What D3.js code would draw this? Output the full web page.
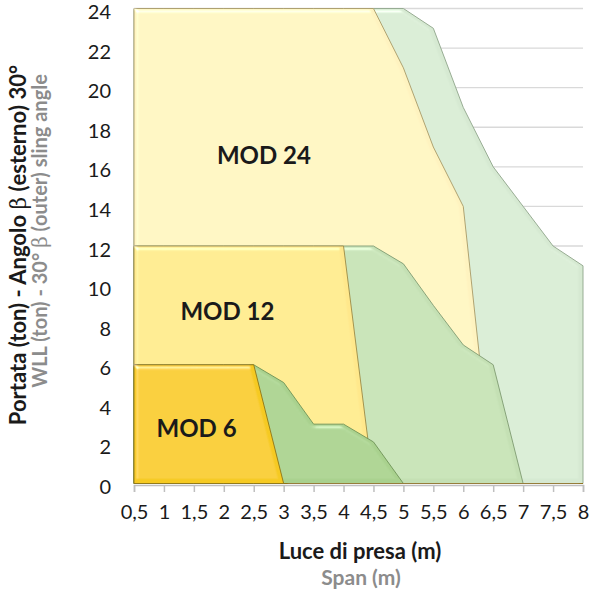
<!DOCTYPE html>
<html lang="it">
<head>
<meta charset="UTF-8">
<script src="https://d3js.org/d3.v7.min.js"></script>
<style>
  html, body { margin: 0; padding: 0; background: #fff; overflow: hidden; }
  svg text { font-family: Lato, "Open Sans", sans-serif; }
  .tick text { font-size: 20px; fill: #1a1a1a; }
  .grid line { stroke: #d9d9d9; stroke-width: 1.3px; }
  .label { font-weight: bold; font-size: 24px; fill: #1a1a1a; }
</style>
</head>
<body>
<svg id="chart" width="592" height="598"></svg>
<script>
  // categories on the span axis
  const spans = ["0,5", "1", "1,5", "2", "2,5", "3", "3,5", "4", "4,5", "5", "5,5", "6", "6,5", "7", "7,5", "8"];
  const yTicks = [0, 2, 4, 6, 8, 10, 12, 14, 16, 18, 20, 22, 24];

  // load values (ton) per span, drawn back to front
  const mod24ext = [24, 24, 24, 24, 24, 24, 24, 24, 24, 24, 23, 19, 16, 14, 12, 11];
  const mod24    = [24, 24, 24, 24, 24, 24, 24, 24, 24, 21, 17, 14, 0, 0, 0, 0];
  const mod12ext = [12, 12, 12, 12, 12, 12, 12, 12, 12, 11.1, 9, 7, 6, 0, 0, 0];
  const mod12    = [12, 12, 12, 12, 12, 12, 12, 12, 0, 0, 0, 0, 0, 0, 0, 0];
  const mod6ext  = [6, 6, 6, 6, 6, 5.1, 3, 3, 2.1, 0, 0, 0, 0, 0, 0, 0];
  const mod6     = [6, 6, 6, 6, 6, 0, 0, 0, 0, 0, 0, 0, 0, 0, 0, 0];

  const series = [
    { vals: mod24ext, fill: "#d6e9d2", edge: "#8fa58a" },
    { vals: mod24,    fill: "#fef3c0", edge: "#a89a66" },
    { vals: mod12ext, fill: "#c4e0b4", edge: "#7f9b72" },
    { vals: mod12,    fill: "#ffe88c", edge: "#9c8a45" },
    { vals: mod6ext,  fill: "#a9d18e", edge: "#6e9357" },
    { vals: mod6,     fill: "#f6ca22", edge: "#8f7415" }
  ];

  // label anchors: position along the category index, load value
  const labels = [
    { text: "MOD 24", at: 4.34, y: 16.6 },
    { text: "MOD 12", at: 3.12, y: 8.7 },
    { text: "MOD 6", at: 2.09, y: 2.8 }
  ];

  const svg = d3.select("#chart");

  const x = d3.scalePoint().domain(spans).range([134, 583]);
  const xi = d3.scaleLinear().domain([0, spans.length - 1]).range(x.range());
  const y = d3.scaleLinear().domain([0, 24]).range([483.5, 8.5]);

  // bevel look
  const defs = svg.append("defs");
  const f = defs.append("filter").attr("id", "bevel")
    .attr("x", "-5%").attr("y", "-5%").attr("width", "110%").attr("height", "110%");
  f.append("feGaussianBlur").attr("in", "SourceAlpha").attr("stdDeviation", 2).attr("result", "blur");
  f.append("feSpecularLighting").attr("in", "blur").attr("surfaceScale", 3)
    .attr("specularConstant", 0.7).attr("specularExponent", 30)
    .attr("lighting-color", "#ffffff").attr("result", "spec")
    .append("feDistantLight").attr("azimuth", 235).attr("elevation", 40);
  f.append("feComposite").attr("in", "spec").attr("in2", "SourceAlpha").attr("operator", "in").attr("result", "specIn");
  f.append("feComposite").attr("in", "SourceGraphic").attr("in2", "specIn")
    .attr("operator", "arithmetic").attr("k1", 0).attr("k2", 1).attr("k3", 1).attr("k4", 0);

  // gridlines
  svg.append("g").attr("class", "grid")
    .selectAll("line").data(yTicks.slice(1)).join("line")
    .attr("x1", 134).attr("x2", 583)
    .attr("y1", d => y(d)).attr("y2", d => y(d));

  const area = d3.area()
    .x((d, i) => x(spans[i]))
    .y0(y(0))
    .y1(d => y(d));

  svg.append("g").selectAll("path").data(series).join("path")
    .attr("d", d => area(d.vals))
    .attr("fill", d => d.fill)
    .attr("stroke", d => d.edge)
    .attr("stroke-width", 0.9)
    .attr("stroke-linejoin", "round")
    .attr("filter", "url(#bevel)");

  // x axis
  const xAxis = svg.append("g")
    .attr("transform", "translate(0,485)")
    .call(d3.axisBottom(x).tickSize(7).tickPadding(13));
  xAxis.select(".domain").attr("stroke", "#bfbfbf").attr("stroke-width", 1.5);
  xAxis.selectAll(".tick line").attr("stroke", "#bfbfbf").attr("stroke-width", 1.5);

  // y axis (labels only)
  const yAxis = svg.append("g")
    .attr("transform", "translate(111,0)")
    .call(d3.axisLeft(y).tickValues(yTicks).tickSize(0).tickPadding(0));
  yAxis.select(".domain").remove();
  yAxis.selectAll(".tick text").attr("dy", "0.5em");

  svg.append("g").selectAll("text").data(labels).join("text")
    .attr("class", "label")
    .attr("x", d => xi(d.at)).attr("y", d => y(d.y))
    .attr("text-anchor", "middle")
    .attr("dy", "0.36em")
    .text(d => d.text);

  // axis titles
  svg.append("text")
    .attr("x", 360).attr("y", 559)
    .attr("text-anchor", "middle")
    .style("font-weight", "bold").style("font-size", "22px").style("fill", "#1a1a1a")
    .text("Luce di presa (m)");
  svg.append("text")
    .attr("x", 361).attr("y", 585)
    .attr("text-anchor", "middle")
    .style("font-weight", "bold").style("font-size", "21px").style("fill", "#8c8c8c")
    .text("Span (m)");

  const yt1 = svg.append("text")
    .attr("transform", "translate(26,245) rotate(-90)")
    .attr("text-anchor", "middle")
    .style("font-weight", "bold").style("font-size", "22px").style("fill", "#1a1a1a");
  yt1.append("tspan").text("Portata (ton) - Angolo ");
  yt1.append("tspan").style("font-weight", "normal").style("font-family", "'DejaVu Serif', serif").text("β");
  yt1.append("tspan").text(" (esterno) 30°");

  const yt2 = svg.append("text")
    .attr("transform", "translate(47,231) rotate(-90)")
    .attr("text-anchor", "middle")
    .style("font-weight", "bold").style("font-size", "20px").style("fill", "#8c8c8c");
  yt2.append("tspan").text("WLL (ton) - 30° ");
  yt2.append("tspan").style("font-weight", "normal").style("font-family", "'DejaVu Serif', serif").text("β");
  yt2.append("tspan").text(" (outer) sling angle");
</script>
</body>
</html>
